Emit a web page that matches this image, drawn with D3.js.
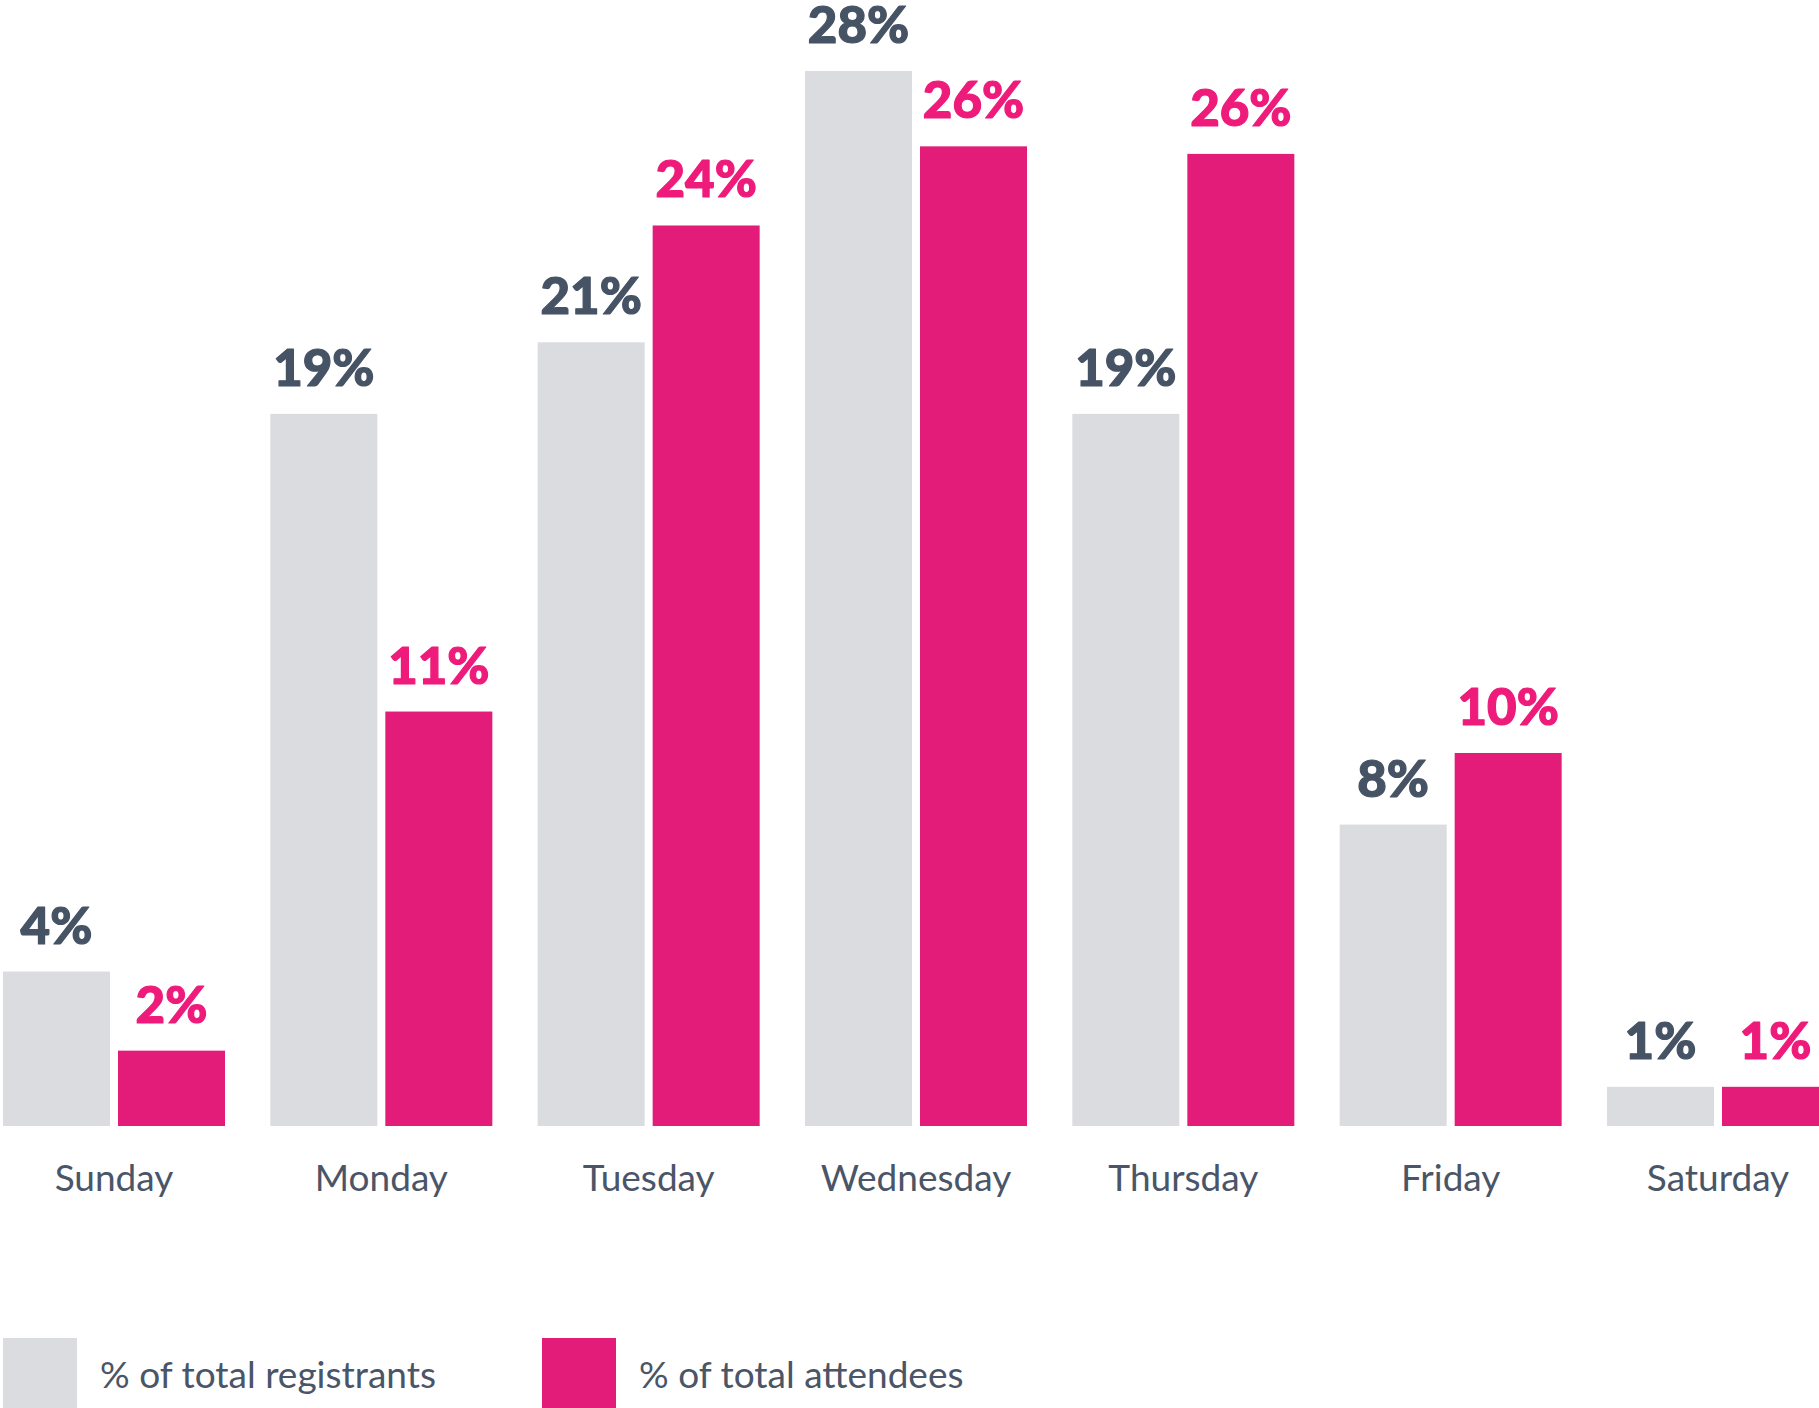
<!DOCTYPE html>
<html>
<head>
<meta charset="utf-8">
<script src="https://cdn.jsdelivr.net/npm/d3@7"></script>
<style>
html,body{margin:0;padding:0;background:#fff;overflow:hidden;}
svg{display:block;}
</style>
</head>
<body>
<svg id="chart" width="1819" height="1408"></svg>
<script>
const days = ["Sunday","Monday","Tuesday","Wednesday","Thursday","Friday","Saturday"];
const registrants = [4.1, 18.9, 20.8, 28.0, 18.9, 8.0, 1.04];
const attendees = [2.0, 11.0, 23.9, 26.0, 25.8, 9.9, 1.04];
const registrantLabels = ["4%","19%","21%","28%","19%","8%","1%"];
const attendeeLabels = ["2%","11%","24%","26%","26%","10%","1%"];
const seriesNames = ["% of total registrants","% of total attendees"];

const barColors = ["#dbdce0","#e31c79"];
const labelColors = ["#465365","#ee1b7b"];
const textColor = "#4a5568";

const svg = d3.select("#chart");

const x0 = d3.scaleBand().domain(days).range([3, 1829]).paddingInner(0.1696).paddingOuter(0);
const x1 = d3.scaleBand().domain([0,1]).range([0, x0.bandwidth()]).paddingInner(8/115).paddingOuter(0);
const y = d3.scaleLinear().domain([0, 28]).range([1126, 71]);

const rows = days.map((d,i)=>({day:d, vals:[
  {s:0, v:registrants[i], label:registrantLabels[i]},
  {s:1, v:attendees[i], label:attendeeLabels[i]}
]}));

const g = svg.selectAll("g.day").data(rows).join("g")
  .attr("class","day")
  .attr("transform", d=>`translate(${x0(d.day)},0)`);

g.selectAll("rect").data(d=>d.vals).join("rect")
  .attr("x", d=>x1(d.s))
  .attr("y", d=>y(d.v))
  .attr("width", x1.bandwidth())
  .attr("height", d=>y(0)-y(d.v))
  .attr("fill", d=>barColors[d.s]);

g.selectAll("text.val").data(d=>d.vals).join("text")
  .attr("class","val")
  .attr("x", d=>x1(d.s)+x1.bandwidth()/2)
  .attr("y", d=>y(d.v)-28)
  .attr("text-anchor","middle")
  .attr("font-family","Lato, sans-serif")
  .attr("font-weight","900")
  .attr("font-size","51px")
  .attr("fill", d=>labelColors[d.s])
  .attr("stroke", d=>labelColors[d.s])
  .attr("stroke-width", 1.2)
  .attr("stroke-linejoin","round")
  .text(d=>d.label);

// category axis
const axis = d3.axisBottom(x0).tickSize(0).tickPadding(0);
const ax = svg.append("g").attr("transform","translate(0,1126)").call(axis);
ax.select(".domain").remove();
ax.selectAll("text")
  .attr("y", 65)
  .attr("dy", 0)
  .attr("font-family","Lato, sans-serif")
  .attr("font-size","37px")
  .attr("fill", textColor);

// legend
const legendX = [3, 542];
const lg = svg.selectAll("g.legend").data(seriesNames).join("g")
  .attr("class","legend")
  .attr("transform",(d,i)=>`translate(${legendX[i]},1338)`);
lg.append("rect").attr("width",74).attr("height",74).attr("fill",(d,i)=>barColors[i]);
lg.append("text")
  .attr("x", 97)
  .attr("y", 50)
  .attr("font-family","Lato, sans-serif")
  .attr("font-size","37px")
  .attr("fill", textColor)
  .text(d=>d);
</script>
</body>
</html>
